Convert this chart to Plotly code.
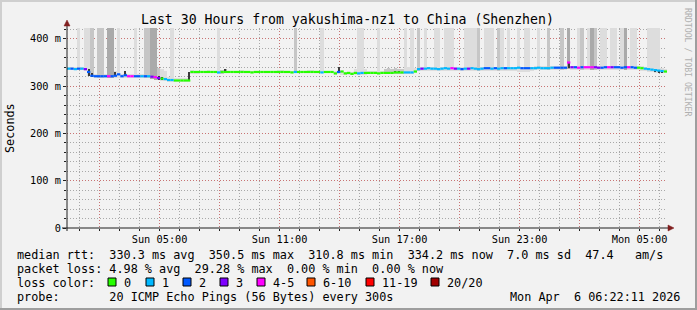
import pandas as pd
import plotly.graph_objects as go

# ---------------- data ----------------
start_time = "2026-04-05 00:22:11"
end_time = "2026-04-06 06:22:11"
step_minutes = 10

# median rtt per 10-minute step (ms)
median_ms = [
    337, 337, 336, 337, 337, 336, 330, 322, 321, 321,
    321, 321, 321, 321, 322, 325, 321, 323, 321, 321,
    321, 321, 321, 321, 321, 320, 319, 317, 316, 315,
    313, 313, 312, 312, 312, 312, 312, 330, 330, 330,
    330, 330, 330, 330, 330, 329, 330, 330, 330, 330,
    330, 330, 330, 330, 330, 329, 330, 330, 330, 330,
    330, 330, 330, 330, 330, 330, 330, 329, 330, 330,
    330, 330, 330, 330, 330, 330, 329, 330, 330, 330,
    327, 330, 331, 327, 328, 326, 328, 327, 328, 328,
    328, 328, 328, 327, 328, 328, 328, 328, 329, 329,
    329, 329, 329, 329, 331, 336, 337, 337, 338, 337,
    337, 336, 337, 338, 337, 338, 337, 337, 336, 337,
    337, 338, 337, 336, 337, 338, 338, 337, 338, 337,
    338, 338, 338, 338, 338, 339, 338, 338, 338, 338,
    338, 339, 338, 338, 338, 339, 339, 339, 339, 339,
    350, 340, 340, 339, 340, 340, 340, 340, 340, 339,
    339, 340, 340, 340, 340, 340, 339, 340, 340, 340,
    339, 339, 338, 337, 336, 335, 334, 333, 332, 331,
]

# loss class per step (index into loss_labels)
loss_code = [
    1, 2, 1, 2, 1, 3, 2, 2, 2, 2,
    2, 2, 4, 2, 2, 2, 2, 2, 4, 4,
    2, 2, 1, 2, 1, 3, 4, 3, 0, 1,
    1, 1, 0, 0, 0, 0, 0, 0, 0, 0,
    0, 0, 0, 0, 0, 1, 0, 0, 0, 0,
    0, 0, 0, 0, 0, 0, 0, 0, 0, 0,
    0, 0, 0, 0, 0, 0, 0, 0, 1, 0,
    0, 0, 0, 0, 0, 0, 1, 0, 0, 0,
    0, 2, 0, 0, 0, 0, 0, 1, 1, 0,
    0, 0, 0, 0, 0, 0, 0, 0, 0, 0,
    0, 1, 1, 1, 0, 1, 3, 1, 1, 1,
    1, 1, 1, 1, 1, 4, 3, 1, 2, 1,
    3, 1, 1, 1, 1, 2, 2, 1, 2, 1,
    1, 2, 1, 1, 1, 1, 2, 2, 2, 1,
    1, 1, 1, 1, 1, 1, 2, 2, 2, 2,
    4, 3, 2, 4, 2, 4, 4, 4, 3, 3,
    2, 2, 4, 3, 2, 2, 2, 2, 4, 2,
    2, 0, 0, 1, 1, 1, 1, 1, 1, 0,
]

# smoke (spread of the 20 pings) per step: low / high (ms), shade class
smoke_lo = [
    334, 334, 334, 334, 334, 333, 322, 319, 318, 318,
    318, 318, 318, 318, 318, 318, 318, 318, 318, 318,
    318, 318, 318, 318, 318, 316, 314, 312, 311, 310,
    309, 309, 309, 309, 309, 309, 309, 326, 326, 326,
    327, 327, 327, 327, 327, 326, 326, 327, 327, 327,
    327, 327, 327, 327, 327, 327, 327, 327, 327, 327,
    327, 327, 327, 327, 327, 327, 327, 327, 327, 327,
    327, 327, 327, 327, 327, 327, 327, 327, 327, 327,
    324, 325, 324, 323, 324, 323, 324, 324, 324, 324,
    325, 325, 325, 325, 325, 325, 325, 325, 325, 325,
    325, 325, 325, 325, 327, 332, 333, 333, 333, 333,
    333, 333, 333, 333, 333, 333, 333, 333, 333, 333,
    333, 333, 333, 333, 333, 333, 333, 333, 333, 333,
    333, 333, 333, 333, 333, 330, 330, 330, 330, 333,
    334, 334, 334, 334, 334, 334, 334, 334, 334, 334,
    336, 335, 335, 335, 335, 335, 335, 335, 335, 335,
    335, 335, 335, 335, 335, 335, 335, 335, 335, 335,
    334, 334, 333, 332, 330, 329, 328, 327, 327, 327,
]
smoke_hi = [
    341, 340, 340, 425, 341, 425, 425, 425, 326, 425,
    425, 326, 425, 425, 332, 425, 325, 327, 325, 325,
    425, 325, 325, 425, 425, 425, 425, 338, 336, 333,
    320, 425, 318, 318, 317, 317, 317, 334, 333, 333,
    333, 333, 334, 333, 333, 425, 335, 336, 333, 333,
    333, 333, 334, 333, 333, 333, 333, 333, 333, 333,
    333, 333, 333, 335, 335, 333, 333, 333, 425, 333,
    333, 333, 335, 335, 333, 333, 425, 333, 333, 333,
    332, 333, 333, 331, 331, 331, 336, 425, 425, 336,
    332, 332, 332, 425, 332, 337, 338, 337, 338, 337,
    337, 425, 341, 425, 339, 425, 341, 425, 341, 341,
    425, 425, 341, 425, 425, 425, 341, 341, 341, 425,
    425, 425, 425, 425, 341, 425, 425, 425, 341, 425,
    425, 341, 425, 341, 341, 425, 341, 425, 425, 341,
    342, 425, 342, 342, 425, 342, 342, 342, 425, 342,
    425, 343, 343, 425, 425, 343, 425, 425, 425, 343,
    425, 425, 343, 425, 425, 343, 425, 425, 343, 425,
    425, 342, 342, 341, 425, 425, 425, 425, 338, 336,
]
smoke_shade = [
    0, 0, 0, 0, 0, 0, 0, 1, 0, 1,
    1, 0, 2, 2, 0, 0, 0, 0, 0, 0,
    0, 0, 0, 1, 1, 2, 2, 1, 0, 0,
    0, 0, 0, 0, 0, 0, 0, 0, 0, 0,
    0, 0, 0, 0, 0, 0, 1, 2, 0, 0,
    0, 0, 0, 0, 0, 0, 0, 0, 0, 0,
    0, 0, 0, 0, 0, 0, 0, 0, 1, 0,
    0, 0, 0, 0, 0, 0, 0, 0, 0, 0,
    0, 0, 0, 0, 0, 0, 0, 0, 0, 0,
    0, 0, 0, 0, 0, 1, 1, 1, 1, 1,
    1, 0, 0, 0, 0, 1, 0, 0, 0, 0,
    0, 0, 0, 0, 0, 0, 0, 0, 0, 0,
    0, 0, 0, 1, 0, 0, 0, 0, 0, 1,
    0, 0, 0, 0, 0, 0, 0, 0, 0, 0,
    0, 0, 0, 0, 1, 0, 0, 0, 1, 0,
    2, 0, 0, 0, 1, 0, 0, 2, 1, 0,
    0, 0, 0, 0, 0, 0, 0, 2, 0, 0,
    0, 0, 0, 0, 0, 0, 0, 0, 0, 0,
]

# dense inner smoke (darkest pings) at a few steps
dark_step = [6, 7, 14, 17, 27, 28, 36, 47, 81, 98, 99, 150, 176, 177, 178]
dark_lo = [321, 320, 321, 321, 314, 313, 312, 328, 328, 327, 327, 338, 329, 328, 328]
dark_hi = [337, 327, 331, 333, 322, 320, 330, 336, 341, 333, 333, 351, 336, 335, 334]

loss_labels = ["0", "1", "2", "3", "4-5", "6-10", "11-19", "20/20"]
loss_colors = ["#26ff00", "#00b8ff", "#0059ff", "#7e00ff",
               "#ff00ff", "#ff5500", "#ff0000", "#a10000"]
shade_colors = ["#dddddd", "#c6c6c6", "#aaaaaa"]

y_tick_vals = [0, 100, 200, 300, 400]
y_tick_text = ["0", "100 m", "200 m", "300 m", "400 m"]
x_tick_vals = ["2026-04-05 02:00", "2026-04-05 05:00", "2026-04-05 08:00",
               "2026-04-05 11:00", "2026-04-05 14:00", "2026-04-05 17:00",
               "2026-04-05 20:00", "2026-04-05 23:00", "2026-04-06 02:00",
               "2026-04-06 05:00"]
x_tick_text = ["", "Sun 05:00", "", "Sun 11:00", "", "Sun 17:00",
               "", "Sun 23:00", "", "Mon 05:00"]

title_text = "Last 30 Hours from yakushima-nz1 to China (Shenzhen)"
stat_lines = [
    "median rtt:  330.3 ms avg  350.5 ms max  310.8 ms min  334.2 ms now  7.0 ms sd  47.4   am/s",
    "packet loss: 4.98 % avg  29.28 % max  0.00 % min  0.00 % now",
    "loss color:",
    "probe:       20 ICMP Echo Pings (56 Bytes) every 300s",
]
stamp_text = "Mon Apr  6 06:22:11 2026"

# ---------------- layout geometry (pixels) ----------------
W, H = 697, 310
L, R, T, B = 67, 667, 28, 228
PW, PH = R - L, B - T
MONO = "DejaVu Sans Mono"


def px(x):
    return (x - L) / PW


def py(y):
    return (B - y) / PH


step = pd.Timedelta(minutes=step_minutes)
times = pd.date_range(start_time, periods=len(median_ms), freq=f"{step_minutes}min")
step_ms = step_minutes * 60 * 1000

fig = go.Figure()

# smoke bars
for s, col in enumerate(shade_colors):
    idx = [i for i in range(len(times)) if smoke_shade[i] == s]
    fig.add_trace(go.Bar(
        x=[times[i] + step / 2 for i in idx],
        base=[smoke_lo[i] for i in idx],
        y=[smoke_hi[i] - smoke_lo[i] for i in idx],
        width=[step_ms] * len(idx),
        marker=dict(color=col, line=dict(width=0)),
        hoverinfo="skip", showlegend=False,
    ))

fig.add_trace(go.Bar(
    x=[times[i] + step / 2 for i in dark_step],
    base=dark_lo,
    y=[h - l for h, l in zip(dark_hi, dark_lo)],
    width=[step_ms * 0.6] * len(dark_step),
    marker=dict(color="#3a3a3a", line=dict(width=0)),
    hoverinfo="skip", showlegend=False,
))

# median line, coloured by loss
for c, col in enumerate(loss_colors):
    xs, ys = [], []
    for i in range(len(times)):
        if loss_code[i] == c:
            xs += [times[i], times[i] + step, None]
            ys += [median_ms[i], median_ms[i], None]
    if xs:
        fig.add_trace(go.Scatter(
            x=xs, y=ys, mode="lines", line=dict(color=col, width=2.2),
            hoverinfo="skip", showlegend=False, connectgaps=False,
        ))

grid_minor = "rgba(143,143,143,0.75)"
grid_major = "rgba(222,80,80,0.6)"
grid_dash = "1px,2px"

shapes = []
# 3D border
shapes.append(dict(type="rect", xref="paper", yref="paper",
                   x0=px(0), x1=px(W), y0=py(H), y1=py(0),
                   line=dict(width=0), fillcolor="#9e9e9e", layer="below"))
shapes.append(dict(type="rect", xref="paper", yref="paper",
                   x0=px(0), x1=px(W - 2), y0=py(H - 2), y1=py(0),
                   line=dict(width=0), fillcolor="#cfcfcf", layer="below"))
shapes.append(dict(type="rect", xref="paper", yref="paper",
                   x0=px(2), x1=px(W - 2), y0=py(H - 2), y1=py(2),
                   line=dict(width=0), fillcolor="#f2f2f2", layer="below"))
# axes lines + arrows
shapes.append(dict(type="line", xref="paper", yref="paper",
                   x0=px(62), x1=px(669), y0=py(228), y1=py(228),
                   line=dict(color="#1f1f1f", width=1), layer="above"))
shapes.append(dict(type="line", xref="paper", yref="paper",
                   x0=px(67), x1=px(67), y0=py(231), y1=py(25),
                   line=dict(color="#1f1f1f", width=1), layer="above"))
shapes.append(dict(type="path", xref="paper", yref="paper",
                   path=f"M {px(668)},{py(225)} L {px(674)},{py(228)} L {px(668)},{py(231)} Z",
                   fillcolor="#801f1f", line=dict(color="#801f1f", width=0.5), layer="above"))
shapes.append(dict(type="path", xref="paper", yref="paper",
                   path=f"M {px(64)},{py(26)} L {px(67)},{py(20)} L {px(70)},{py(26)} Z",
                   fillcolor="#801f1f", line=dict(color="#801f1f", width=0.5), layer="above"))

annotations = []
annotations.append(dict(text=title_text, xref="paper", yref="paper",
                        x=px(347), y=py(19), xanchor="center", yanchor="middle",
                        showarrow=False, font=dict(family=MONO, size=13.2, color="black")))
annotations.append(dict(text="Seconds", xref="paper", yref="paper",
                        x=px(10), y=py(128), xanchor="center", yanchor="middle",
                        textangle=-90, showarrow=False,
                        font=dict(family=MONO, size=11.8, color="black")))
annotations.append(dict(text="RRDTOOL / TOBI OETIKER", xref="paper", yref="paper",
                        x=px(688), y=py(62), xanchor="center", yanchor="middle",
                        textangle=90, showarrow=False,
                        font=dict(family=MONO, size=8.2, color="#b0b0b0")))
line_y = [254.5, 268.5, 282.5, 296.5]
for txt, yy in zip(stat_lines, line_y):
    annotations.append(dict(text=txt.replace(" ", "\u00a0"), xref="paper", yref="paper",
                            x=px(15), y=py(yy), xanchor="left", yanchor="middle",
                            showarrow=False, font=dict(family=MONO, size=11.8, color="black")))
annotations.append(dict(text=stamp_text.replace(" ", "\u00a0"), xref="paper", yref="paper",
                        x=px(682), y=py(296.5), xanchor="right", yanchor="middle",
                        showarrow=False, font=dict(family=MONO, size=11.8, color="black")))

box_x = [108, 146, 183, 220, 257, 307, 366, 431]
for bx, lab, col in zip(box_x, loss_labels, loss_colors):
    shapes.append(dict(type="rect", xref="paper", yref="paper",
                       x0=px(bx), x1=px(bx + 8), y0=py(286), y1=py(278),
                       fillcolor=col, line=dict(color="black", width=1), layer="above"))
    annotations.append(dict(text=lab, xref="paper", yref="paper",
                            x=px(bx + 14), y=py(282.5), xanchor="left", yanchor="middle",
                            showarrow=False, font=dict(family=MONO, size=11.8, color="black")))

fig.update_layout(
    width=W, height=H,
    margin=dict(l=L, r=W - R, t=T, b=H - B, pad=0),
    paper_bgcolor="#f2f2f2", plot_bgcolor="white",
    barmode="overlay", bargap=0,
    showlegend=False,
    shapes=shapes, annotations=annotations,
    xaxis=dict(
        type="date", range=[start_time, end_time],
        tickvals=x_tick_vals, ticktext=x_tick_text,
        showgrid=True, gridcolor=grid_major, griddash=grid_dash, gridwidth=1,
        ticks="outside", ticklen=2, tickcolor="#1f1f1f",
        tickfont=dict(family=MONO, size=10.3, color="black"),
        showline=False, zeroline=False, automargin=False, fixedrange=True,
        minor=dict(dtick=3600000, tick0="2026-04-05 00:00:00", showgrid=True,
                   gridcolor=grid_minor, griddash=grid_dash, gridwidth=1,
                   ticks="outside", ticklen=2, tickcolor="#1f1f1f"),
    ),
    yaxis=dict(
        range=[0, 423],
        tickvals=y_tick_vals, ticktext=y_tick_text,
        showgrid=True, gridcolor=grid_major, griddash=grid_dash, gridwidth=1,
        ticks="outside", ticklen=3, tickcolor="#1f1f1f",
        tickfont=dict(family=MONO, size=10.3, color="black"),
        showline=False, zeroline=False, automargin=False, fixedrange=True,
        minor=dict(dtick=20, tick0=0, showgrid=True,
                   gridcolor=grid_minor, griddash=grid_dash, gridwidth=1,
                   ticks="outside", ticklen=2, tickcolor="#1f1f1f"),
    ),
)

fig.write_html("out.html")
